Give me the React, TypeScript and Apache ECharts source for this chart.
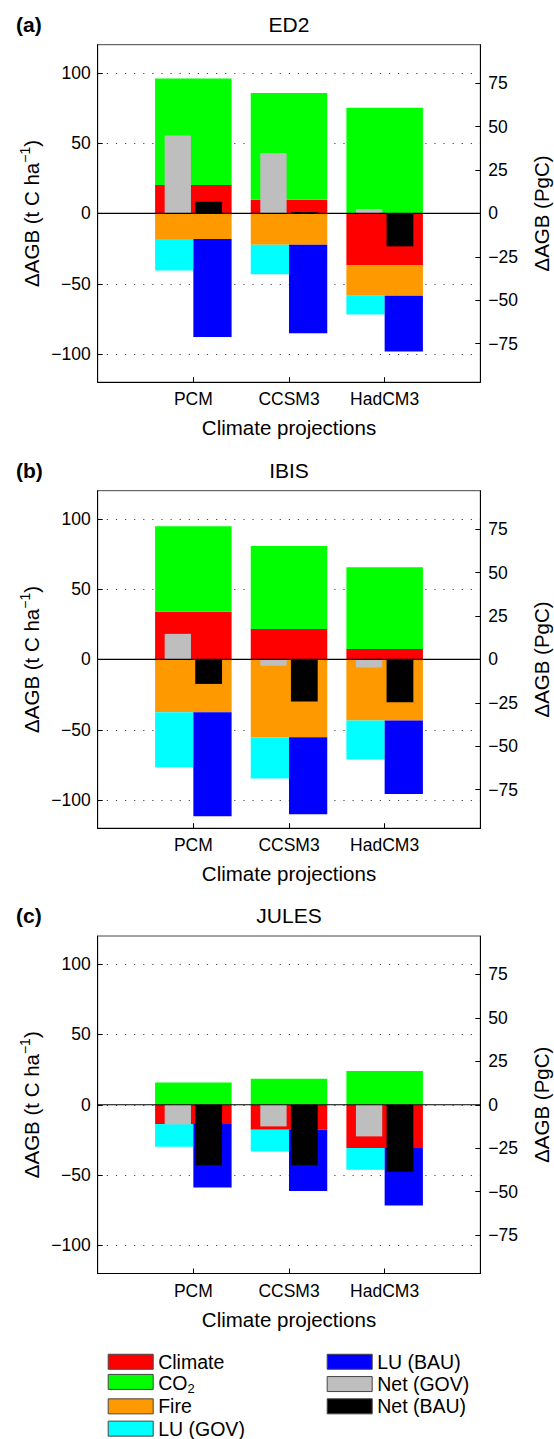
import React, { useEffect, useRef } from 'react';
import * as echarts from 'echarts';

const categories = ['PCM', 'CCSM3', 'HadCM3'];
const panelTitles = ['ED2', 'IBIS', 'JULES'];
const panelLetters = ['(a)', '(b)', '(c)'];
const rightTicks = [-75, -50, -25, 0, 25, 50, 75];
const componentNames = ['Climate', 'CO2', 'Fire', 'LU (GOV)', 'LU (BAU)', 'Net (GOV)', 'Net (BAU)'];
const componentColors = ['#FF0000', '#00FF00', '#FF9900', '#00FFFF', '#0000FF', '#BEBEBE', '#000000'];

// ED2 (t C / ha)
const ed2Climate = [20.2, 9.7, -37.1];
const ed2CO2 = [75.7, 76.0, 75.1];
const ed2Fire = [-18.2, -22.2, -21.4];
const ed2LuGov = [-22.3, -21.1, -13.4];
const ed2LuBau = [-69.6, -63.0, -39.7];
const ed2NetGov = [55.4, 42.9, 3.1];
const ed2NetBau = [8.3, 1.0, -23.4];

// IBIS
const ibisClimate = [33.9, 21.6, 7.5];
const ibisCO2 = [60.9, 59.0, 58.1];
const ibisFire = [-37.5, -55.3, -43.4];
const ibisLuGov = [-39.1, -29.3, -27.7];
const ibisLuBau = [-74.0, -54.7, -52.2];
const ibisNetGov = [18.2, -4.5, -5.7];
const ibisNetBau = [-17.4, -29.9, -30.4];

// JULES
const julesClimate = [-13.7, -17.8, -30.8];
const julesCO2 = [15.9, 18.5, 24.0];
const julesFire = [0, 0, 0];
const julesLuGov = [-16.2, -15.4, -15.4];
const julesLuBau = [-45.1, -43.5, -40.8];
const julesNetGov = [-14.0, -15.4, -22.5];
const julesNetBau = [-43.0, -43.0, -47.6];

const panels = [
  { climate: ed2Climate, co2: ed2CO2, fire: ed2Fire, luGov: ed2LuGov, luBau: ed2LuBau, netGov: ed2NetGov, netBau: ed2NetBau },
  { climate: ibisClimate, co2: ibisCO2, fire: ibisFire, luGov: ibisLuGov, luBau: ibisLuBau, netGov: ibisNetGov, netBau: ibisNetBau },
  { climate: julesClimate, co2: julesCO2, fire: julesFire, luGov: julesLuGov, luBau: julesLuBau, netGov: julesNetGov, netBau: julesNetBau },
];

const T_PER_PG = 1.235; // t C/ha corresponding to 1 PgC
const Y_MAX = 120;
const RIGHT_MAX = Y_MAX / T_PER_PG;

const FONT = "'Liberation Sans', Arial, Helvetica, sans-serif";
const GRID_LEFT = 97.7;
const GRID_W = 382.6;
const GRID_H = 337.5;
const gridTops = [44.7, 490.7, 936];

// horizontal extent of each mark relative to its category centre (axis units)
const offsets = [
  [-0.4, 0.4], [-0.4, 0.4], [-0.4, 0.4],
  [-0.4, 0.0], [0.0, 0.4],
  [-0.3, -0.025], [0.02, 0.3],
];

const fmt = (v: number) => (v < 0 ? '\u2212' + Math.abs(v) : String(v));

function buildRects(p: any) {
  const out: number[][][] = [[], [], [], [], [], [], []];
  categories.forEach((_, k) => {
    const x = k + 1;
    let pos = 0;
    let neg = 0;
    const comps = [p.climate[k], p.co2[k], p.fire[k]];
    comps.forEach((v, c) => {
      if (v >= 0) {
        out[c].push([x, pos, pos + v]);
        pos += v;
      } else {
        out[c].push([x, neg, neg + v]);
        neg += v;
      }
    });
    out[3].push([x, neg, neg + p.luGov[k]]);
    out[4].push([x, neg, neg + p.luBau[k]]);
    out[5].push([x, 0, p.netGov[k]]);
    out[6].push([x, 0, p.netBau[k]]);
  });
  return out;
}

export default function App() {
  const ref = useRef<HTMLDivElement>(null);
  useEffect(() => {
    if (!ref.current) return;
    const chart = echarts.init(ref.current, undefined, { renderer: 'svg' });

    const grid: any[] = [];
    const xAxis: any[] = [];
    const yAxis: any[] = [];
    const series: any[] = [];
    const graphic: any[] = [];

    panels.forEach((p, i) => {
      const top = gridTops[i];
      grid.push({
        left: GRID_LEFT, top, width: GRID_W, height: GRID_H,
        show: true, borderColor: '#444', borderWidth: 1, backgroundColor: 'transparent',
      });
      xAxis.push({
        type: 'value', gridIndex: i, min: 0, max: 4, interval: 1,
        axisLine: { show: true, onZero: false, lineStyle: { color: '#000', width: 1 } },
        axisTick: { show: true, inside: true, length: 5, lineStyle: { color: '#000' } },
        axisLabel: {
          formatter: (v: number) => categories[v - 1] ?? '',
          fontSize: 17.5, color: '#000', margin: 8, fontFamily: FONT,
        },
        splitLine: { show: false },
        name: 'Climate projections', nameLocation: 'middle', nameGap: 35,
        nameTextStyle: { fontSize: 20.5, color: '#000', fontFamily: FONT },
      });
      yAxis.push({
        type: 'value', gridIndex: i, position: 'left', min: -Y_MAX, max: Y_MAX, splitNumber: 5,
        axisLine: { show: true, lineStyle: { color: '#000', width: 1 } },
        axisTick: { show: true, inside: true, length: 5, lineStyle: { color: '#000' } },
        axisLabel: {
          showMinLabel: false, showMaxLabel: false, formatter: fmt,
          fontSize: 17.5, color: '#000', margin: 7, fontFamily: FONT,
        },
        splitLine: {
          show: true, showMinLine: false, showMaxLine: false,
          lineStyle: { type: [1.2, 7.9], color: '#444', width: 1 },
        },
      });
      yAxis.push({
        type: 'value', gridIndex: i, position: 'right', min: -RIGHT_MAX, max: RIGHT_MAX,
        axisLine: { show: true, lineStyle: { color: '#000', width: 1 } },
        axisTick: { show: true, inside: true, length: 5, customValues: rightTicks, lineStyle: { color: '#000' } },
        axisLabel: {
          customValues: rightTicks, formatter: fmt,
          fontSize: 17.5, color: '#000', margin: 8, fontFamily: FONT,
        },
        splitLine: { show: false },
      });

      const rects = buildRects(p);
      componentNames.forEach((name, c) => {
        const off = offsets[c];
        const color = componentColors[c];
        series.push({
          type: 'custom', name, xAxisIndex: i, yAxisIndex: 2 * i, silent: true, z: 2,
          itemStyle: { color, borderColor: '#444', borderWidth: 1 },
          data: rects[c],
          renderItem: (_params: any, api: any) => {
            const x = api.value(0);
            const y0 = api.value(1);
            const y1 = api.value(2);
            const a = api.coord([x + off[0], y0]);
            const b = api.coord([x + off[1], y1]);
            return {
              type: 'rect',
              shape: { x: a[0], y: Math.min(a[1], b[1]), width: b[0] - a[0], height: Math.abs(b[1] - a[1]) },
              style: { fill: color, stroke: 'none', lineWidth: 0 },
            };
          },
        });
      });
      series.push({
        type: 'line', xAxisIndex: i, yAxisIndex: 2 * i, silent: true, z: 5,
        data: [[0, 0], [4, 0]], symbol: 'none',
        lineStyle: { color: '#000', width: 1.2 },
      });

      const cy = top + GRID_H / 2;
      graphic.push({
        type: 'text', x: 16, y: top - 20.5,
        style: {
          text: panelLetters[i], font: `bold 21px ${FONT}`, fill: '#000',
          align: 'left', verticalAlign: 'middle', textAlign: 'left', textVerticalAlign: 'middle',
        },
      });
      graphic.push({
        type: 'text', x: GRID_LEFT + GRID_W / 2, y: top - 20.5,
        style: {
          text: panelTitles[i], font: `21px ${FONT}`, fill: '#000',
          align: 'center', verticalAlign: 'middle', textAlign: 'center', textVerticalAlign: 'middle',
        },
      });
      graphic.push({
        type: 'text', x: 30, y: cy, rotation: Math.PI / 2,
        style: {
          text: '{a|ΔAGB (t C ha}{s|\u22121}{a|)}', fill: '#000',
          align: 'center', verticalAlign: 'middle', textAlign: 'center', textVerticalAlign: 'middle',
          rich: {
            a: { fontSize: 20.5, fontFamily: FONT, lineHeight: 24, verticalAlign: 'bottom', fill: '#000', color: '#000' },
            s: { fontSize: 14, fontFamily: FONT, lineHeight: 14, verticalAlign: 'top', fill: '#000', color: '#000' },
          },
        },
      });
      graphic.push({
        type: 'text', x: 541, y: cy, rotation: Math.PI / 2,
        style: {
          text: 'ΔAGB (PgC)', font: `20.5px ${FONT}`, fill: '#000',
          align: 'center', verticalAlign: 'middle', textAlign: 'center', textVerticalAlign: 'middle',
        },
      });
    });

    const legendCommon = {
      orient: 'vertical', top: 1350.6, height: 120, itemWidth: 45, itemHeight: 15, itemGap: 0,
      padding: 0, icon: 'rect', selectedMode: false,
      itemStyle: { borderColor: '#444', borderWidth: 1 },
      formatter: (name: string) => (name === 'CO2' ? '{c|CO}{s|2}' : name),
      textStyle: {
        fontSize: 19.5, lineHeight: 22.3, color: '#000', fontFamily: FONT,
        rich: {
          c: { fontSize: 19.5, lineHeight: 18, verticalAlign: 'top', color: '#000', fontFamily: FONT },
          s: { fontSize: 13, lineHeight: 13, padding: [9.3, 0, 0, 0], verticalAlign: 'top', color: '#000', fontFamily: FONT },
        },
      },
    };
    const legendItem = (name: string) => ({
      name, itemStyle: { borderColor: '#444', borderWidth: 1 },
    });

    chart.setOption({
      animation: false,
      textStyle: { fontFamily: FONT },
      grid, xAxis, yAxis, series, graphic,
      legend: [
        { ...legendCommon, left: 107.7, data: componentNames.slice(0, 4).map(legendItem) },
        { ...legendCommon, left: 326.7, data: componentNames.slice(4).map(legendItem) },
      ],
    });
    return () => chart.dispose();
  }, []);
  return (
    <div
      ref={ref}
      style={{ position: 'absolute', left: 0, top: 0, width: 554, height: 1439, background: '#fff' }}
    />
  );
}
